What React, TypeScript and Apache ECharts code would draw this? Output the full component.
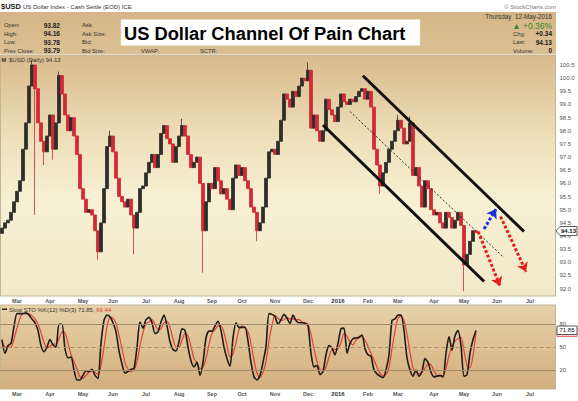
import React, { useEffect, useRef } from "react";
import * as echarts from "echarts";

// ---- Data ----
// one slot ≈ two trading days, Feb 2015 .. 12-May-2016
const closes: number[] = [
  94.3, 94.5, 94.6, 94.9, 95.3, 95.7, 96.1, 97.3, 98.3, 99.7,
  100.5, 99.6, 98.3, 97.6, 97.2, 97.8, 98.6, 97.3, 98.3, 100.1,
  99.4, 98.6, 98.0, 98.5, 97.8, 97.1, 95.8, 95.4, 94.9, 95.0,
  94.8, 94.2, 93.4, 94.5, 95.8, 97.4, 97.8, 97.2, 96.2, 95.5,
  95.3, 95.1, 95.4, 94.8, 94.3, 94.9, 95.8, 95.9, 96.4, 96.8,
  97.1, 96.6, 97.1, 97.9, 98.2, 97.7, 97.5, 96.8, 97.4, 97.8,
  98.2, 97.8, 97.1, 96.6, 96.8, 97.0, 96.0, 94.2, 95.3, 96.0,
  95.8, 96.6, 96.1, 95.6, 95.8, 95.4, 95.0, 96.2, 96.7, 96.3,
  96.6, 96.1, 95.8, 95.1, 94.9, 94.2, 94.5, 95.1, 96.2, 97.2,
  97.3, 97.1, 97.6, 98.4, 99.4, 99.2, 98.9, 99.5, 99.3, 99.7,
  100.0, 99.9, 100.3, 98.1, 98.6, 98.0, 97.6, 98.0, 99.2, 98.8,
  98.6, 98.35, 98.9, 99.4, 99.1, 99.0, 99.2, 99.1, 99.3, 99.5,
  99.6, 99.2, 99.5, 98.9, 97.3, 96.7, 95.9, 96.4, 96.8, 97.3,
  97.6, 98.0, 98.4, 98.1, 97.5, 97.6, 98.3, 96.3, 96.6, 95.9,
  95.1, 96.1, 95.8, 95.0, 94.8, 94.9, 94.5, 94.3, 94.9, 94.7,
  94.3, 94.6, 94.9, 94.4, 92.9, 93.3, 93.8, 94.2, 94.13,
];
const firstOpen = 94.1;
const wickHighs: [number, number][] = [
  [10, 100.7], [19, 100.25], [36, 98.0], [60, 98.45], [102, 100.6], [132, 98.6], [136, 98.55],
];
const wickLows: [number, number][] = [
  [11, 94.8], [14, 96.7], [17, 96.9], [32, 93.1], [44, 93.3], [67, 92.6], [85, 93.8], [126, 95.6], [154, 91.9],
];

const stoK: number[] = [
  60, 42, 52, 55, 77, 94, 94, 94, 95, 92, 87, 82, 72, 52, 44, 50, 60, 53, 50, 80,
  80, 48, 36, 37, 20, 7, 7, 13, 19, 18, 21, 13, 9, 55, 85, 92, 90, 82, 70, 45,
  28, 16, 18, 21, 22, 50, 83, 75, 86, 89, 82, 68, 70, 83, 92, 78, 57, 47, 45, 57,
  74, 72, 50, 32, 24, 30, 13, 30, 62, 71, 71, 78, 84, 72, 50, 35, 25, 62, 82, 76,
  76, 76, 58, 30, 11, 7, 13, 30, 51, 94, 93, 90, 80, 86, 93, 88, 81, 92, 85, 82,
  82, 81, 78, 42, 24, 26, 14, 18, 40, 52, 49, 40, 55, 74, 75, 42, 55, 61, 62, 63,
  66, 48, 40, 38, 20, 15, 12, 10, 20, 40, 85, 87, 92, 92, 72, 36, 20, 12, 20, 12,
  18, 35, 30, 17, 11, 12, 13, 11, 42, 64, 46, 65, 72, 52, 12, 14, 42, 60, 71.85,
];
const stoD: number[] = [
  58, 50, 50, 50, 61, 75, 88, 94, 94, 94, 91, 87, 80, 69, 56, 49, 51, 54, 54, 61,
  70, 69, 55, 40, 31, 21, 11, 9, 13, 17, 19, 17, 14, 26, 50, 77, 89, 88, 81, 66,
  48, 30, 21, 18, 20, 31, 52, 69, 81, 83, 86, 80, 73, 74, 82, 84, 76, 61, 50, 50,
  59, 68, 65, 51, 35, 29, 22, 24, 35, 54, 68, 73, 78, 78, 69, 52, 37, 41, 56, 73,
  78, 76, 70, 55, 33, 16, 10, 17, 31, 58, 79, 92, 88, 85, 86, 89, 87, 87, 86, 86,
  83, 82, 80, 67, 48, 31, 21, 19, 24, 37, 47, 47, 48, 56, 68, 64, 57, 53, 59, 62,
  64, 59, 51, 42, 33, 24, 16, 12, 14, 23, 48, 71, 88, 90, 85, 67, 43, 23, 17, 15,
  17, 22, 28, 27, 19, 13, 12, 12, 22, 39, 51, 58, 61, 63, 45, 26, 23, 39, 69.44,
];

const monthSlots: number[] = [5, 16, 27, 37, 48, 59, 70, 80, 91, 102, 112, 122, 132, 144, 154, 165, 176];
const monthLabels: string[] = ["Mar", "Apr", "May", "Jun", "Jul", "Aug", "Sep", "Oct", "Nov", "Dec", "2016", "Feb", "Mar", "Apr", "May", "Jun", "Jul"];
const priceTicks: number[] = [92, 92.5, 93, 93.5, 94, 94.5, 95, 95.5, 96, 96.5, 97, 97.5, 98, 98.5, 99, 99.5, 100, 100.5];
const stoTicks: number[] = [20, 50, 80];
const slotCount = 185;

// annotation lines [slot, price]
const channelUpper: [number, number][] = [[120.3, 100.09], [174, 94.17]];
const channelLower: [number, number][] = [[107, 98.22], [160.7, 92.27]];
const channelMid: [number, number][] = [[116, 98.73], [167.3, 93.18]];
const arrowUp: [number, number][] = [[160.7, 94.27], [164.7, 95.03]];
const arrowDown1: [number, number][] = [[166.2, 94.74], [174.7, 92.64]];
const arrowDown2: [number, number][] = [[158.7, 94.17], [166, 92.1]];

const FONT = "'Liberation Sans', Arial, sans-serif";

export default function App() {
  const ref = useRef<HTMLDivElement>(null);
  useEffect(() => {
    document.body.style.margin = "0";
    const chart = echarts.init(ref.current!, null, { renderer: "svg" });
    const categories = Array.from({ length: slotCount }, (_, i) => String(i));
    const hiMap = new Map(wickHighs);
    const loMap = new Map(wickLows);
    const candles = closes.map((c, i) => {
      const o = i === 0 ? firstOpen : closes[i - 1];
      let lo = Math.min(o, c);
      let hi = Math.max(o, c);
      if (loMap.has(i)) lo = Math.min(lo, loMap.get(i)!);
      if (hiMap.has(i)) hi = Math.max(hi, hiMap.get(i)!);
      return [o, c, lo, hi];
    });
    const monthMap = new Map(monthSlots.map((s, i) => [s, monthLabels[i]]));
    const monthLabel = {
      interval: (index: number) => monthMap.has(index),
      formatter: (_v: string, index: number) => {
        const m = monthMap.get(index) || "";
        return m === "2016" ? "{b|2016}" : m;
      },
      fontSize: 5.5,
      fontWeight: "bold",
      fontFamily: FONT,
      color: "#555",
      margin: 2,
      rich: { b: { fontSize: 6, fontWeight: "bold", color: "#333", fontFamily: FONT } },
    };
    const lin = (stops: [number, string][]) => ({
      type: "linear", x: 0, y: 0, x2: 0, y2: 1,
      colorStops: stops.map(([o, c]) => ({ offset: o, color: c })),
    });
    const seg = (pts: [number, number][], style: any, arrow = false) => [
      { coord: pts[0], symbol: "none", lineStyle: style },
      { coord: pts[1], symbol: arrow ? "arrow" : "none" },
    ];
    const txt = (x: number, y: number, text: string, size: number, opts: any = {}) => ({
      type: "text", x, y, silent: true, z: 100,
      style: {
        text, fill: opts.fill || "#333", fontSize: size, fontFamily: FONT,
        fontWeight: opts.bold ? "bold" : "normal",
        textAlign: opts.align || "left", textVerticalAlign: "middle",
        rich: opts.rich,
      },
    });
    const rowY = [25, 33.7, 42, 50.7];
    const option: any = {
      animation: false,
      backgroundColor: "#ffffff",
      grid: [
        { left: 0.5, top: 55, width: 555, height: 241, show: true, borderColor: "#c2b594", borderWidth: 1,
          backgroundColor: lin([[0, "#d9ba8c"], [0.35, "#eee0ba"], [0.6, "#f7f0d3"], [1, "#f2e9c8"]]) },
        { left: 0.5, top: 305, width: 555, height: 84, show: true, borderColor: "#c2b594", borderWidth: 1,
          backgroundColor: lin([[0, "#e7d2aa"], [1, "#d4ae7d"]]) },
      ],
      xAxis: [
        { type: "category", gridIndex: 0, data: categories, axisLine: { show: false }, axisTick: { show: false }, axisLabel: monthLabel },
        { type: "category", gridIndex: 1, data: categories, axisLine: { show: false }, axisTick: { show: false }, axisLabel: monthLabel },
        { type: "value", gridIndex: 0, min: -0.5, max: slotCount - 0.5, show: false },
      ],
      yAxis: [
        { type: "value", gridIndex: 0, position: "right", min: 91.72, max: 100.88,
          splitLine: { show: false }, axisLine: { show: false }, axisTick: { show: false },
          axisLabel: { customValues: priceTicks, formatter: (v: number) => v.toFixed(1), fontSize: 6, color: "#555", fontFamily: FONT, margin: 4 } },
        { type: "value", gridIndex: 1, position: "right", min: -4.9, max: 105.3,
          splitLine: { show: false }, axisLine: { show: false }, axisTick: { show: false },
          axisLabel: { customValues: stoTicks, fontSize: 6, color: "#555", fontFamily: FONT, margin: 4 } },
      ],
      series: [
        { type: "candlestick", xAxisIndex: 0, yAxisIndex: 0, data: candles, barWidth: 2.6,
          itemStyle: { color: "#2e2e2a", color0: "#d22a36", borderColor: "#2e2e2a", borderColor0: "#d22a36", borderWidth: 0.8 } },
        { type: "line", xAxisIndex: 2, yAxisIndex: 0, data: [], markLine: {
            silent: true, animation: false, label: { show: false }, symbolSize: 9,
            data: [
              seg(channelUpper, { color: "#111", width: 3, type: "solid" }),
              seg(channelLower, { color: "#111", width: 3, type: "solid" }),
              seg(channelMid, { color: "#222", width: 1, type: [2, 2] }),
              seg(arrowUp, { color: "#1b2fe0", width: 3, type: [3, 2] }, true),
              seg(arrowDown1, { color: "#e3201b", width: 3, type: [3, 2] }, true),
              seg(arrowDown2, { color: "#e3201b", width: 3, type: [3, 2] }, true),
            ],
          } },
        { type: "line", xAxisIndex: 1, yAxisIndex: 1, data: stoD, symbol: "none", smooth: 0.25,
          lineStyle: { color: "#e0403a", width: 1.2 },
          markLine: { silent: true, symbol: "none", label: { show: false }, animation: false,
            data: [
              { yAxis: 80, lineStyle: { color: "#9d8a6c", width: 1, type: "solid" } },
              { yAxis: 20, lineStyle: { color: "#9d8a6c", width: 1, type: "solid" } },
              { yAxis: 50, lineStyle: { color: "#a8926e", width: 1, type: [4, 3] } },
            ] } },
        { type: "line", xAxisIndex: 1, yAxisIndex: 1, data: stoK, symbol: "none", smooth: 0.25,
          lineStyle: { color: "#1e1a14", width: 1.6 } },
      ],
      graphic: [
        // header panel
        { type: "rect", shape: { x: 0, y: 12, width: 556, height: 42 }, silent: true, z: -1,
          style: { fill: lin([[0, "#d5b585"], [1, "#dcc095"]]) as any } },
        txt(1, 6.5, "$USD", 7.5, { bold: true, fill: "#222" }),
        txt(23, 6.5, "US Dollar Index - Cash Settle (EOD) ICE", 6, { fill: "#333" }),
        txt(556, 6.5, "© StockCharts.com", 6, { fill: "#777", align: "right" }),
        txt(4, rowY[0], "Open:", 5.8), txt(4, rowY[1], "High:", 5.8), txt(4, rowY[2], "Low:", 5.8), txt(4, rowY[3], "Prev Close:", 5.8),
        txt(60, rowY[0], "93.82", 6.5, { bold: true, align: "right", fill: "#222" }),
        txt(60, rowY[1], "94.16", 6.5, { bold: true, align: "right", fill: "#222" }),
        txt(60, rowY[2], "93.78", 6.5, { bold: true, align: "right", fill: "#222" }),
        txt(60, rowY[3], "93.79", 6.5, { bold: true, align: "right", fill: "#222" }),
        txt(82, rowY[0], "Ask:", 5.8), txt(82, rowY[1], "Ask Size:", 5.8), txt(82, rowY[2], "Bid:", 5.8), txt(82, rowY[3], "Bid Size:", 5.8),
        txt(141, rowY[3], "VWAP:", 5.8), txt(200, rowY[3], "SCTR:", 5.8),
        { type: "rect", shape: { x: 121, y: 19.5, width: 299, height: 26 }, silent: true, z: 50,
          style: { fill: "#ffffff", stroke: "#e8e0d0", lineWidth: 0.5 } },
        txt(124, 33, "US Dollar Channel Of Pain Chart", 18.3, { bold: true, fill: "#000" }),
        txt(552, 16, "Thursday  12-May-2016", 6.3, { align: "right", fill: "#333" }),
        txt(552, 25.5, "▲ +0.36%", 8.5, { align: "right", fill: "#2d8a2d" }),
        txt(513, rowY[1], "Chg:", 5.8), txt(513, rowY[2], "Last:", 5.8), txt(513, rowY[3], "Volume:", 5.8),
        txt(552, rowY[1], "+0.34", 6.5, { bold: true, align: "right", fill: "#222" }),
        txt(552, rowY[2], "94.13", 6.5, { bold: true, align: "right", fill: "#222" }),
        txt(552, rowY[3], "0", 6.5, { bold: true, align: "right", fill: "#222" }),
        // legends
        txt(1.5, 59.5, "M", 5.5, { bold: true, fill: "#333" }),
        txt(9, 59.5, "$USD (Daily) 94.13", 6, { fill: "#333" }),
        { type: "rect", shape: { x: 2, y: 308.5, width: 5, height: 1.5 }, silent: true, z: 100, style: { fill: "#222" } },
        txt(9, 309.5, "Slow STO %K(12) %D(3) 71.85, {r|69.44}", 6, { fill: "#333",
          rich: { r: { fill: "#d8392f", fontSize: 6, fontFamily: FONT } } }),
        // last-value markers
        { type: "polygon", shape: { points: [[556, 231], [560, 226.5], [577, 226.5], [577, 235.5], [560, 235.5]] }, silent: true, z: 100,
          style: { fill: "#ffffff", stroke: "#333", lineWidth: 0.8 } },
        txt(568.5, 231, "94.13", 6, { bold: true, align: "center", fill: "#111" }),
        { type: "rect", shape: { x: 557, y: 328, width: 20, height: 8.5 }, silent: true, z: 99,
          style: { fill: "#f4d0d0", stroke: "#e05050", lineWidth: 0.8 } },
        { type: "rect", shape: { x: 557, y: 326, width: 20, height: 8.5 }, silent: true, z: 100,
          style: { fill: "#ffffff", stroke: "#333", lineWidth: 0.8 } },
        txt(567, 330.3, "71.85", 6, { align: "center", fill: "#111" }),
      ],
    };
    chart.setOption(option);
    return () => chart.dispose();
  }, []);
  return <div ref={ref} style={{ position: "absolute", left: 0, top: 0, width: 578, height: 401 }} />;
}
